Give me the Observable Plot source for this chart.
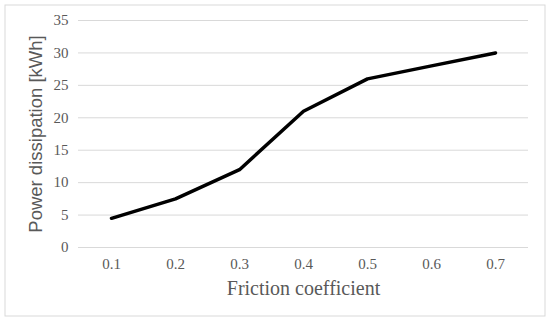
<!DOCTYPE html>
<html>
<head>
<meta charset="utf-8">
<script src="https://cdn.jsdelivr.net/npm/d3@7"></script>
<script src="https://cdn.jsdelivr.net/npm/@observablehq/plot@0.6"></script>
<style>
  html, body { margin: 0; padding: 0; background: #fff; }
</style>
</head>
<body>
<div id="chart"></div>
<script>
const categories = ["0.1", "0.2", "0.3", "0.4", "0.5", "0.6", "0.7"];
const power = [4.5, 7.5, 12, 21, 26, 28, 30];
const yTicks = [0, 5, 10, 15, 20, 25, 30, 35];
const xTitle = "Friction coefficient";
const yTitle = "Power dissipation [kWh]";

const data = categories.map((c, i) => ({x: c, y: power[i]}));
const serif = "'Liberation Serif', 'DejaVu Serif', serif";

const chart = Plot.plot({
  width: 550,
  height: 322,
  marginLeft: 78,
  marginRight: 22,
  marginTop: 20,
  marginBottom: 75,
  style: {fontFamily: serif, fontSize: "15px", color: "#595959", background: "#fff"},
  x: {type: "point", domain: categories, padding: 0.5, axis: null},
  y: {domain: [0, 35], axis: null},
  marks: [
    Plot.frame({stroke: "#d9d9d9", insetLeft: -73.5, insetTop: -15.5, insetRight: -16.5, insetBottom: -68.5}),
    Plot.ruleY(yTicks, {stroke: "#d9d9d9", strokeWidth: 1}),
    Plot.text(yTicks, {y: d => d, frameAnchor: "left", dx: -10, textAnchor: "end", lineAnchor: "middle",
      fontFamily: serif, fontSize: 15, fill: "#595959"}),
    Plot.text(categories, {x: d => d, frameAnchor: "bottom", dy: 17, textAnchor: "middle", lineAnchor: "middle",
      fontFamily: serif, fontSize: 15, fill: "#595959"}),
    Plot.text([yTitle], {frameAnchor: "left", rotate: -90, dx: -42, textAnchor: "middle", lineAnchor: "middle",
      fontFamily: "'Liberation Sans', sans-serif", fontSize: 18.5, fill: "#595959"}),
    Plot.text([xTitle], {frameAnchor: "bottom", dy: 41, lineAnchor: "middle", textAnchor: "middle",
      fontFamily: serif, fontSize: 20, fill: "#595959"}),
    Plot.line(data, {x: "x", y: "y", stroke: "#000", strokeWidth: 3.5})
  ]
});
document.getElementById("chart").appendChild(chart);
</script>
</body>
</html>
